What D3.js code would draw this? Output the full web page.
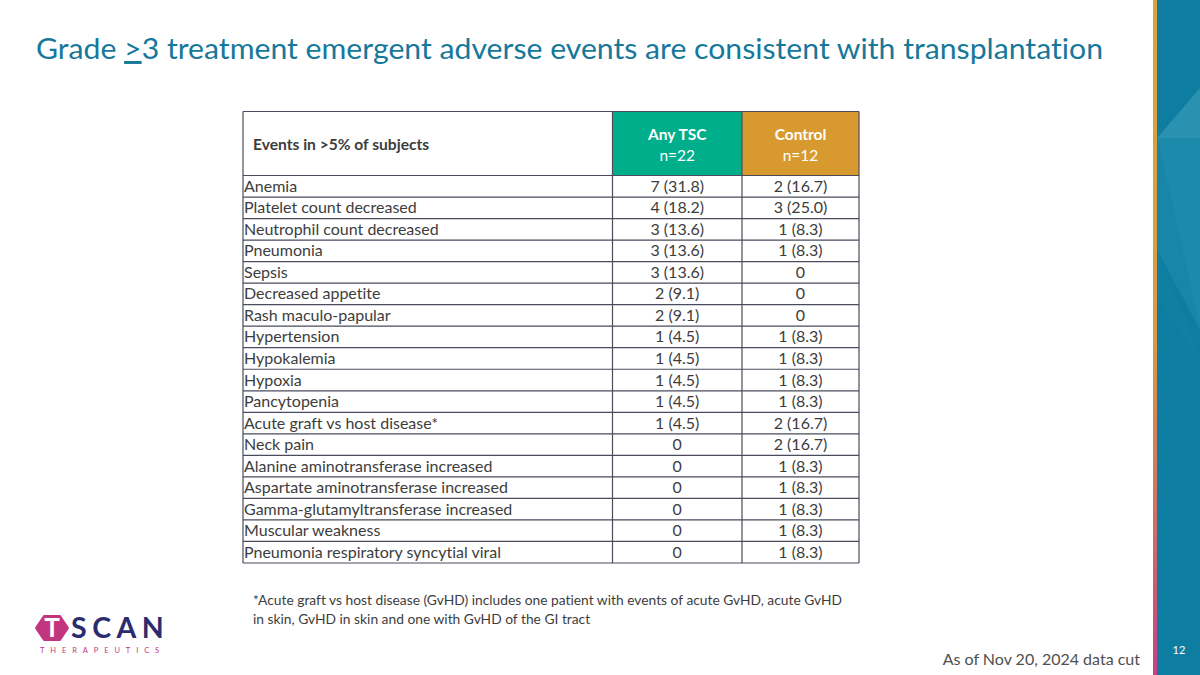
<!DOCTYPE html>
<html>
<head>
<meta charset="utf-8">
<script src="https://cdn.jsdelivr.net/npm/d3@7"></script>
<style>
  html, body { margin: 0; padding: 0; background: #fff; }
  svg { display: block; font-family: Lato, "Open Sans", sans-serif; font-variant-ligatures: none; }
</style>
</head>
<body>
<svg id="chart" width="1200" height="675"></svg>
<script>
// ---- Data ----
const titleBefore = "Grade ";
const titleSymbol = ">";
const titleAfter = "3 treatment emergent adverse events are consistent with transplantation";

const columnHeaders = ["Events in >5% of subjects", "Any TSC", "Control"];
const columnSubheaders = ["", "n=22", "n=12"];

const events = [
  "Anemia", "Platelet count decreased", "Neutrophil count decreased", "Pneumonia",
  "Sepsis", "Decreased appetite", "Rash maculo-papular", "Hypertension",
  "Hypokalemia", "Hypoxia", "Pancytopenia", "Acute graft vs host disease*",
  "Neck pain", "Alanine aminotransferase increased", "Aspartate aminotransferase increased",
  "Gamma-glutamyltransferase increased", "Muscular weakness", "Pneumonia respiratory syncytial viral"
];
const anyTSC = ["7 (31.8)", "4 (18.2)", "3 (13.6)", "3 (13.6)", "3 (13.6)", "2 (9.1)", "2 (9.1)",
  "1 (4.5)", "1 (4.5)", "1 (4.5)", "1 (4.5)", "1 (4.5)", "0", "0", "0", "0", "0", "0"];
const control = ["2 (16.7)", "3 (25.0)", "1 (8.3)", "1 (8.3)", "0", "0", "0",
  "1 (8.3)", "1 (8.3)", "1 (8.3)", "1 (8.3)", "2 (16.7)", "2 (16.7)", "1 (8.3)", "1 (8.3)",
  "1 (8.3)", "1 (8.3)", "1 (8.3)"];

const footnoteLines = [
  "*Acute graft vs host disease (GvHD) includes one patient with events of acute GvHD, acute GvHD",
  "in skin, GvHD in skin and one with GvHD of the GI tract"
];
const dataCut = "As of Nov 20, 2024 data cut";
const pageNumber = "12";

// ---- Drawing ----
const svg = d3.select("#chart");
const textColor = "#3d3d3d";
const borderColor = "#4a4b5c";

// Right decorative panel
const defs = svg.append("defs");
const grad = defs.append("linearGradient").attr("id", "edge").attr("x1", 0).attr("y1", 0).attr("x2", 0).attr("y2", 1);
grad.append("stop").attr("offset", "0%").attr("stop-color", "#d9a63a");
grad.append("stop").attr("offset", "50%").attr("stop-color", "#d69a45");
grad.append("stop").attr("offset", "80%").attr("stop-color", "#cf6a6a");
grad.append("stop").attr("offset", "100%").attr("stop-color", "#c73f86");

svg.append("rect").attr("x", 1157).attr("y", 0).attr("width", 43).attr("height", 675).attr("fill", "#0d7ea2");
const facets = [
  [[1157, 138], [1200, 88], [1200, 138]],
  [[1157, 138], [1200, 138], [1200, 330]],
  [[1157, 138], [1157, 250], [1200, 330]],
  [[1157, 250], [1157, 300], [1200, 355]],
  [[1157, 300], [1200, 355], [1200, 360]]
];
const facetFill = ["#2a91b0", "#1b8aab", "#1786a8", "#0f7fa2", "#0f7fa2"];
svg.selectAll("polygon.facet").data(facets).join("polygon").attr("class", "facet")
  .attr("points", d => d.map(p => p.join(",")).join(" "))
  .attr("fill", (d, i) => facetFill[i]);
svg.append("rect").attr("x", 1153).attr("y", 0).attr("width", 4).attr("height", 675).attr("fill", "url(#edge)");

svg.append("text").attr("x", 1179).attr("y", 654).attr("text-anchor", "middle")
  .attr("font-size", 11).attr("fill", "#ffffff").text(pageNumber);

// Title
const title = svg.append("text").attr("x", 36).attr("y", 59).attr("font-size", 29.5).attr("fill", "#16789a")
  .attr("textLength", 1067).attr("lengthAdjust", "spacingAndGlyphs");
title.append("tspan").text(titleBefore);
title.append("tspan").attr("text-decoration", "underline").text(titleSymbol);
title.append("tspan").text(titleAfter);

// Table
const tableLeft = 243, tableRight = 859, headerTop = 111.5, headerBottom = 175.5, tableBottom = 563;
const colEdges = [243, 612.5, 742, 859];
const x = d3.scaleOrdinal().domain([0, 1, 2]).range([0, 1, 2].map(i => colEdges[i]));
const colW = i => colEdges[i + 1] - colEdges[i];
const y = d3.scaleBand().domain(d3.range(events.length)).range([headerBottom, tableBottom]).padding(0);

const headerFill = ["#ffffff", "#00ae8c", "#d89a2e"];
const tbl = svg.append("g");
tbl.selectAll("rect.hdr").data([0, 1, 2]).join("rect").attr("class", "hdr")
  .attr("x", d => x(d)).attr("y", headerTop).attr("width", d => colW(d)).attr("height", headerBottom - headerTop)
  .attr("fill", d => headerFill[d]);

// header text
tbl.append("text").attr("x", 253).attr("y", 149.5).attr("font-size", 15.6).attr("font-weight", "bold")
  .attr("fill", textColor).text(columnHeaders[0]);
[1, 2].forEach(i => {
  const cx = x(i) + colW(i) / 2;
  tbl.append("text").attr("x", cx).attr("y", 139.5).attr("text-anchor", "middle").attr("font-size", 15.5)
    .attr("font-weight", "bold").attr("fill", "#fff").text(columnHeaders[i]);
  tbl.append("text").attr("x", cx).attr("y", 160.5).attr("text-anchor", "middle").attr("font-size", 15.5)
    .attr("fill", "#fff").text(columnSubheaders[i]);
});

// rows
const rows = tbl.selectAll("g.row").data(events.map((e, i) => ({ e, a: anyTSC[i], c: control[i], i })))
  .join("g").attr("class", "row").attr("transform", d => `translate(0,${y(d.i)})`);
const base = y.bandwidth() / 2 + 5.5;
rows.append("text").attr("x", tableLeft + 1).attr("y", base).attr("font-size", 16).attr("fill", textColor).text(d => d.e);
rows.append("text").attr("x", x(1) + colW(1) / 2).attr("y", base).attr("text-anchor", "middle")
  .attr("font-size", 16).attr("fill", textColor).text(d => d.a);
rows.append("text").attr("x", x(2) + colW(2) / 2).attr("y", base).attr("text-anchor", "middle")
  .attr("font-size", 16).attr("fill", textColor).text(d => d.c);

// grid lines
const hLines = [headerTop, headerBottom].concat(events.map((e, i) => y(i) + y.bandwidth()));
tbl.selectAll("line.h").data(hLines).join("line").attr("class", "h")
  .attr("x1", tableLeft).attr("x2", tableRight).attr("y1", d => d).attr("y2", d => d)
  .attr("stroke", borderColor).attr("stroke-width", 1.2);
tbl.selectAll("line.v").data(colEdges).join("line").attr("class", "v")
  .attr("x1", d => d).attr("x2", d => d).attr("y1", headerTop).attr("y2", tableBottom)
  .attr("stroke", borderColor).attr("stroke-width", 1.2);

// Footnote
svg.selectAll("text.foot").data(footnoteLines).join("text").attr("class", "foot")
  .attr("x", 253).attr("y", (d, i) => 605 + i * 19).attr("font-size", 13.8).attr("fill", textColor).text(d => d);

// Data cut
svg.append("text").attr("x", 1140).attr("y", 665).attr("text-anchor", "end").attr("font-size", 16)
  .attr("fill", "#505050").text(dataCut);

// Logo
const logo = svg.append("g");
const hx = 52, hy = 628, hr = 16;
const hex = d3.range(6).map(k => {
  const a = Math.PI / 3 * k;
  return [hx + hr * Math.cos(a), hy + hr * 0.87 * Math.sin(a)];
});
logo.append("polygon").attr("points", hex.map(p => p.join(",")).join(" ")).attr("fill", "#c1367f")
  .attr("stroke", "#c1367f").attr("stroke-width", 2).attr("stroke-linejoin", "round");
logo.append("text").attr("x", hx).attr("y", hy + 9).attr("text-anchor", "middle").attr("font-size", 26)
  .attr("font-weight", "bold").attr("fill", "#fff").text("T");
logo.append("text").attr("x", 71).attr("y", 638).attr("font-size", 28.5).attr("font-weight", "bold")
  .attr("letter-spacing", 5.5).attr("fill", "#2b2c6e").text("SCAN");
logo.append("text").attr("x", 40).attr("y", 653).attr("font-size", 7.5).attr("letter-spacing", 5.9)
  .attr("fill", "#c1367f").text("THERAPEUTICS");
</script>
</body>
</html>
